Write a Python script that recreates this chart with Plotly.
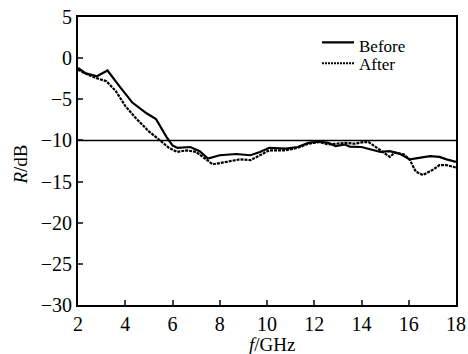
import plotly.graph_objects as go

# Reflection loss curves, frequency in GHz, R in dB
freq_before = [2.0, 2.3, 2.8, 3.25, 3.75, 4.3, 4.9, 5.3, 5.75, 6.0, 6.2, 6.75, 7.15, 7.5,
               8.0, 8.7, 9.3, 9.7, 10.1, 10.8, 11.3, 11.75, 12.2, 12.6, 12.9, 13.3, 13.5,
               14.0, 14.8, 15.2, 15.6, 16.05, 16.5, 16.9, 17.3, 17.6, 18.0]
r_before = [-1.2, -1.8, -2.2, -1.5, -3.4, -5.4, -6.7, -7.4, -9.6, -10.6, -10.9, -10.8, -11.3, -12.2,
            -11.8, -11.65, -11.8, -11.4, -10.9, -11.0, -10.8, -10.3, -10.15, -10.3, -10.7, -10.5, -10.75,
            -10.8, -11.4, -11.3, -11.6, -12.3, -12.1, -11.9, -12.0, -12.3, -12.6]

freq_after = [2.0, 2.4, 2.75, 3.2, 3.6, 4.0, 4.45, 5.0, 5.45, 5.85, 6.2, 6.6, 7.0, 7.45, 7.7,
              8.3, 8.85, 9.3, 9.7, 10.1, 10.8, 11.3, 11.75, 12.2, 12.6, 12.9, 13.3, 13.7, 14.1,
              14.3, 14.8, 15.2, 15.4, 15.8, 16.05, 16.3, 16.6, 17.0, 17.3, 17.6, 18.0]
r_after = [-1.4, -2.0, -2.4, -2.8, -4.0, -5.8, -7.3, -8.9, -9.95, -10.9, -11.4, -11.2, -11.4, -12.4, -12.9,
           -12.6, -12.3, -12.4, -11.8, -11.2, -11.2, -10.9, -10.4, -10.2, -10.5, -10.4, -10.3, -10.4, -10.2,
           -10.2, -11.2, -12.0, -11.5, -11.7, -12.4, -13.8, -14.2, -13.6, -13.0, -13.0, -13.3]

series_names = ["Before", "After"]
x_ticks = [2, 4, 6, 8, 10, 12, 14, 16, 18]
y_ticks = [5, 0, -5, -10, -15, -20, -25, -30]
threshold = -10

FONT = "Liberation Serif"
solid = dict(color="black", width=2.2)
dotted = dict(color="black", width=2.2, dash="3px,1px")

fig = go.Figure()
fig.add_trace(go.Scatter(x=freq_before, y=r_before, mode="lines", name=series_names[0], line=solid))
fig.add_trace(go.Scatter(x=freq_after, y=r_after, mode="lines", name=series_names[1], line=dotted))

# -10 dB reference line
fig.add_shape(type="line", xref="x", yref="y", x0=x_ticks[0], x1=x_ticks[-1],
              y0=threshold, y1=threshold, line=dict(color="black", width=1.5))

# Compact legend drawn in the upper right of the plot area
legend_rows = [(series_names[0], solid, 0.912, 0.899),
               (series_names[1], dict(color="black", width=2, dash="2px,1px"), 0.839, 0.836)]
for label, style, y_line, y_text in legend_rows:
    fig.add_shape(type="line", xref="paper", yref="paper", x0=0.6455, x1=0.7302,
                  y0=y_line, y1=y_line, line=style)
    fig.add_annotation(text=label, xref="paper", yref="paper", x=0.738, y=y_text,
                       xanchor="left", yanchor="middle", showarrow=False,
                       font=dict(family=FONT, size=17, color="black"))

# Axis titles
fig.add_annotation(text="<i>f</i>/GHz", xref="paper", yref="paper", x=0.513, y=-0.138,
                   xanchor="center", yanchor="middle", showarrow=False,
                   font=dict(family=FONT, size=19, color="black"))
fig.add_annotation(text="<i>R</i>/dB", xref="paper", yref="paper", x=-0.153, y=0.488,
                   xanchor="center", yanchor="middle", showarrow=False, textangle=-90,
                   font=dict(family=FONT, size=19, color="black"))

fig.update_layout(
    width=468, height=354,
    margin=dict(l=78, r=12, t=17, b=49),
    paper_bgcolor="white", plot_bgcolor="white",
    font=dict(family=FONT, size=20, color="black"),
    showlegend=False,
)
fig.update_xaxes(range=[2, 18], tickvals=x_ticks, ticks="inside", ticklen=5, tickwidth=2,
                 showline=True, linecolor="black", linewidth=2, mirror=True,
                 showgrid=False, zeroline=False, automargin=False)
fig.update_yaxes(range=[-30, 5], tickvals=y_ticks, ticks="inside", ticklen=5, tickwidth=2,
                 showline=True, linecolor="black", linewidth=2, mirror=True,
                 showgrid=False, zeroline=False, automargin=False)

fig.write_html("out.html")
